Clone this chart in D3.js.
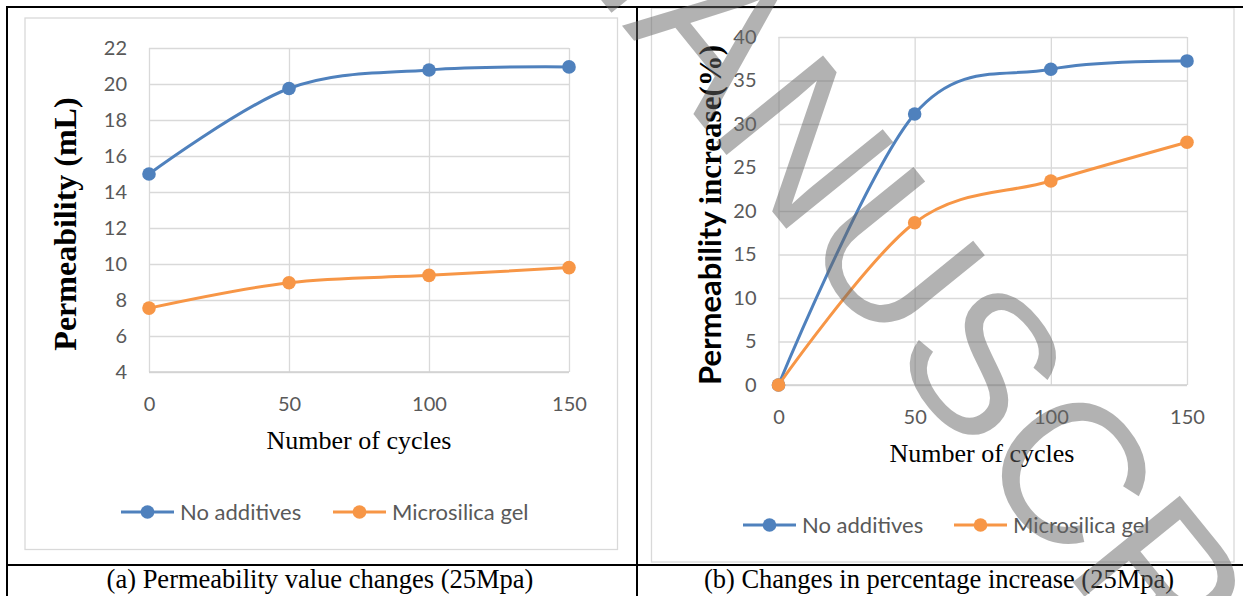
<!DOCTYPE html>
<html>
<head>
<meta charset="utf-8">
<script src="https://cdn.jsdelivr.net/npm/d3@7"></script>
<style>
  html, body { margin: 0; padding: 0; background: #fff; }
  svg { display: block; }
</style>
</head>
<body>
<svg id="fig" width="1243" height="596"></svg>
<script>
// Freeze–thaw permeability at 25 MPa
const cycles = [0, 50, 100, 150];
const seriesNames = ["No additives", "Microsilica gel"];

// (a) permeability value, mL
const permNoAdditives = [15.0, 19.75, 20.78, 20.95];
const permMicrosilica = [7.55, 8.96, 9.37, 9.8];

// (b) permeability increase, %
const incNoAdditives = [0, 31.15, 36.3, 37.25];
const incMicrosilica = [0, 18.65, 23.45, 27.9];

const xTicks = [0, 50, 100, 150];
const yTicksA = [4, 6, 8, 10, 12, 14, 16, 18, 20, 22];
const yTicksB = [0, 5, 10, 15, 20, 25, 30, 35, 40];

const captionA = "(a) Permeability value changes (25Mpa)";
const captionB = "(b) Changes in percentage increase (25Mpa)";

const seriesColors = ["#4f81bd", "#f79646"];
const SANS = "Lato, 'Open Sans', sans-serif";
const SERIF = "'Liberation Serif', 'Times New Roman', serif";

const svg = d3.select("#fig");
svg.append("rect").attr("width", 1243).attr("height", 596).attr("fill", "#fff");

function drawPanel(cfg) {
  const g = svg.append("g");
  // chart frame
  g.append("rect")
    .attr("x", cfg.box[0]).attr("y", cfg.box[1])
    .attr("width", cfg.box[2] - cfg.box[0]).attr("height", cfg.box[3] - cfg.box[1])
    .attr("fill", "#fff").attr("stroke", "#d9d9d9").attr("stroke-width", 1.3);

  const x = d3.scaleLinear().domain([0, 150]).range(cfg.xr);
  const y = d3.scaleLinear().domain(cfg.yd).range(cfg.yr);
  const w = cfg.xr[1] - cfg.xr[0];
  const h = cfg.yr[0] - cfg.yr[1];

  // horizontal gridlines + y labels
  const ya = g.append("g").attr("transform", `translate(${cfg.xr[0]},0)`)
    .call(d3.axisLeft(y).tickValues(cfg.yTicks).tickSize(-w).tickPadding(22).tickFormat(d3.format("d")));
  // vertical gridlines + x labels
  const xa = g.append("g").attr("transform", `translate(0,${cfg.yr[0]})`)
    .call(d3.axisBottom(x).tickValues(xTicks).tickSize(-h).tickPadding(cfg.xPad).tickFormat(d3.format("d")));
  [ya, xa].forEach(a => {
    a.select(".domain").remove();
    a.selectAll(".tick line").attr("stroke", "#d9d9d9").attr("stroke-width", 1.3);
    a.selectAll(".tick text").attr("fill", "#595959")
      .style("font-family", SANS).style("font-size", "20px");
  });
  // baseline of plot
  g.append("line").attr("x1", cfg.xr[0]).attr("x2", cfg.xr[1])
    .attr("y1", cfg.yr[0]).attr("y2", cfg.yr[0])
    .attr("stroke", "#d0d0d0").attr("stroke-width", 1.5);

  const line = d3.line().x((d, i) => x(cycles[i])).y(d => y(d))
    .curve(d3.curveCardinal.tension(0));
  cfg.series.forEach((vals, k) => {
    g.append("path").attr("d", line(vals)).attr("fill", "none")
      .attr("stroke", seriesColors[k]).attr("stroke-width", 3).attr("stroke-linecap", "round");
    g.selectAll(null).data(vals).enter().append("circle")
      .attr("cx", (d, i) => x(cycles[i])).attr("cy", d => y(d)).attr("r", 6.8)
      .attr("fill", seriesColors[k]);
  });

  // x axis title
  g.append("text").attr("x", cfg.xTitle[0]).attr("y", cfg.xTitle[1])
    .attr("text-anchor", "middle").attr("fill", "#000")
    .style("font-family", SERIF).style("font-size", "26px")
    .text("Number of cycles");

  // y axis title
  const yt = g.append("text")
    .attr("transform", `translate(${cfg.yTitle[0]},${cfg.yTitle[1]}) rotate(-90)`)
    .attr("text-anchor", cfg.yTitleAnchor).attr("fill", "#000").style("font-weight", "bold");
  cfg.yTitleParts.forEach(p => {
    yt.append("tspan").style("font-family", p.font).style("font-size", p.size + "px").text(p.text);
  });

  // legend
  cfg.legend.forEach((L, k) => {
    g.append("line").attr("x1", L[0]).attr("x2", L[0] + 53)
      .attr("y1", cfg.legendY).attr("y2", cfg.legendY)
      .attr("stroke", seriesColors[k]).attr("stroke-width", 3);
    g.append("circle").attr("cx", L[0] + 26.5).attr("cy", cfg.legendY).attr("r", 6.8)
      .attr("fill", seriesColors[k]);
    g.append("text").attr("x", L[0] + 59).attr("y", cfg.legendY + 7.5)
      .attr("fill", "#595959").style("font-family", SANS).style("font-size", "22px")
      .text(seriesNames[k]);
  });

  // caption below the table rule
  g.append("text").attr("x", cfg.caption[0]).attr("y", 588)
    .attr("text-anchor", "middle").attr("fill", "#000")
    .style("font-family", SERIF).style("font-size", "26.5px")
    .text(cfg.caption[1]);
}

drawPanel({
  box: [25, 18, 617.5, 549.5],
  xr: [149, 569], yd: [4, 22], yr: [372, 48], yTicks: yTicksA, xPad: 25,
  series: [permNoAdditives, permMicrosilica],
  xTitle: [359, 449],
  yTitle: [76, 224], yTitleAnchor: "middle",
  yTitleParts: [{ text: "Permeability (mL)", font: SERIF, size: 32 }],
  legend: [[121], [333]], legendY: 512,
  caption: [320, captionA]
});

drawPanel({
  box: [651.5, 8, 1234, 562],
  xr: [778.5, 1187], yd: [0, 40], yr: [385, 37], yTicks: yTicksB, xPad: 25,
  series: [incNoAdditives, incMicrosilica],
  xTitle: [982, 462],
  yTitle: [721, 385], yTitleAnchor: "start",
  yTitleParts: [
    { text: "Permeability ", font: SANS, size: 31 },
    { text: "increase(%)", font: SERIF, size: 31 }
  ],
  legend: [[743], [954]], legendY: 525,
  caption: [939, captionB]
});

// table rules
const rules = svg.append("g").attr("stroke", "#000").attr("stroke-width", 2);
rules.append("line").attr("x1", 7).attr("x2", 1243).attr("y1", 7).attr("y2", 7);
rules.append("line").attr("x1", 7).attr("x2", 1243).attr("y1", 565).attr("y2", 565);
rules.append("line").attr("x1", 7).attr("x2", 7).attr("y1", 6).attr("y2", 596);
rules.append("line").attr("x1", 637).attr("x2", 637).attr("y1", 6).attr("y2", 596);

// diagonal watermark
const wm = svg.append("text")
  .attr("fill", "#666").attr("fill-opacity", 0.5)
  .style("font-family", "'Liberation Sans', Arial, sans-serif").style("font-size", "200px")
  .text("ACCEPTED MANUSCRIPT");
const prefix = wm.node().getSubStringLength(0, 9);
wm.attr("transform", `translate(517,-104) rotate(51) translate(${-prefix},0)`);
</script>
</body>
</html>
